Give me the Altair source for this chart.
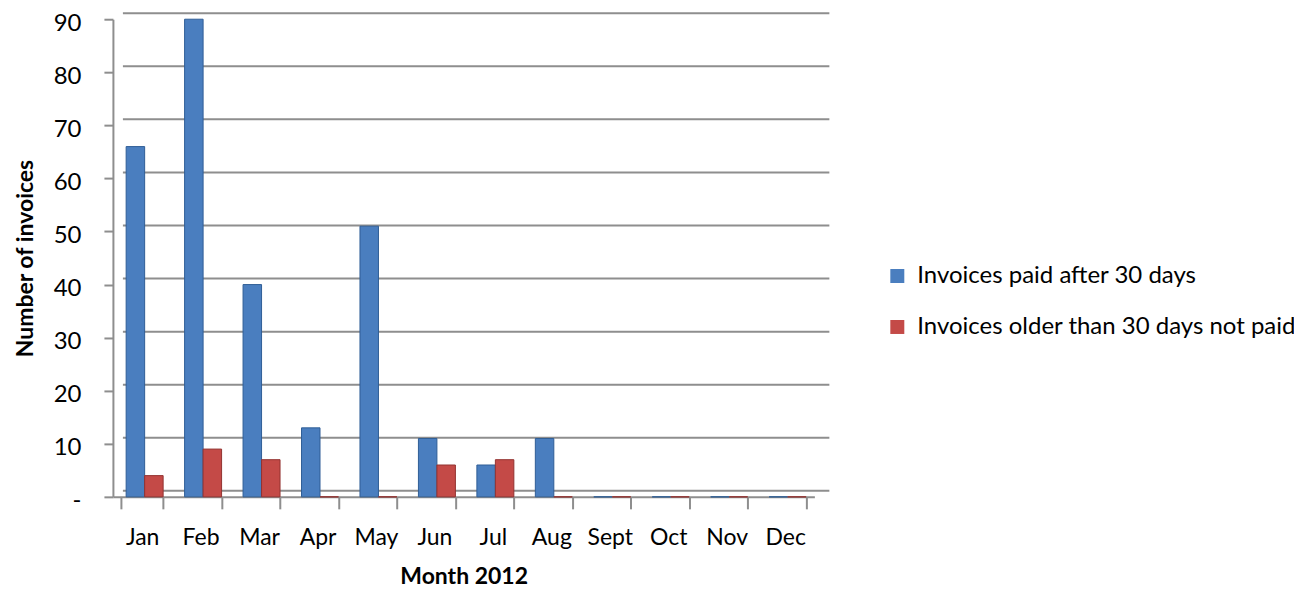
import altair as alt
import pandas as pd

months = ["Jan", "Feb", "Mar", "Apr", "May", "Jun", "Jul", "Aug", "Sept", "Oct", "Nov", "Dec"]
paid_after_30 = [66, 90, 40, 13, 51, 11, 6, 11, 0, 0, 0, 0]
older_not_paid = [4, 9, 7, 0, 0, 6, 7, 0, 0, 0, 0, 0]
series = ["Invoices paid after 30 days", "Invoices older than 30 days not paid"]
y_ticks = [0, 10, 20, 30, 40, 50, 60, 70, 80, 90]

fill_colors = ["#4a7ebf", "#c44a47"]
edge_colors = ["#2f5d96", "#933230"]
FONT = "Lato"

rows = []
for m, a, b in zip(months, paid_after_30, older_not_paid):
    rows.append({"month": m, "series": series[0], "value": a})
    rows.append({"month": m, "series": series[1], "value": b})
df = pd.DataFrame(rows)

grid_df = pd.DataFrame({"value": y_ticks})

y_scale = alt.Scale(domain=[0, 90], nice=False, zero=True)

# back-wall gridlines (slightly raised, as in the 3-D original)
grid = alt.Chart(grid_df).mark_rule(color="#8e8e8e", strokeWidth=2, yOffset=-6).encode(
    y=alt.Y("value:Q", scale=y_scale, title="Number of invoices"),
    x=alt.value(10),
    x2=alt.value(717),
)

zero_label = "'-\u00a0\u00a0\u00a0'"

bars = alt.Chart(df).mark_bar(strokeWidth=1).encode(
    x=alt.X(
        "month:N",
        sort=months,
        scale=alt.Scale(paddingInner=0.282, paddingOuter=0.141),
        title="Month 2012",
        axis=alt.Axis(
            labelAngle=0,
            tickBand="extent",
            tickSize=12,
            tickColor="#8e8e8e",
            tickWidth=2,
            domainColor="#8e8e8e",
            domainWidth=2,
            labelPadding=18,
            labelFontSize=23,
            titlePadding=16,
        ),
    ),
    xOffset=alt.XOffset(
        "series:N",
        sort=series,
        scale=alt.Scale(domain=series, paddingInner=0, paddingOuter=0.135, align=1),
    ),
    y=alt.Y(
        "value:Q",
        scale=y_scale,
        title="Number of invoices",
        axis=alt.Axis(
            values=y_ticks,
            labelExpr="datum.value == 0 ? " + zero_label + " : datum.label",
            tickSize=9,
            tickColor="#8e8e8e",
            tickWidth=2,
            domainColor="#8e8e8e",
            domainWidth=2,
            labelPadding=23,
            labelFontSize=24,
            labelOffset=4,
            titlePadding=16,
            grid=False,
        ),
    ),
    color=alt.Color(
        "series:N",
        sort=series,
        scale=alt.Scale(domain=series, range=fill_colors),
        legend=alt.Legend(
            title=None,
            orient="none",
            legendX=773,
            legendY=245,
            symbolType="square",
            symbolSize=196,
            symbolStrokeWidth=0,
            labelFontSize=24,
            labelFont=FONT,
            labelColor="#000000",
            rowPadding=27,
            labelOffset=8,
            labelLimit=500,
        ),
    ),
    stroke=alt.Stroke(
        "series:N",
        sort=series,
        scale=alt.Scale(domain=series, range=edge_colors),
        legend=None,
    ),
)

chart = (
    alt.layer(grid, bars)
    .properties(
        width=702,
        height=478,
        autosize=alt.AutoSizeParams(type="none"),
        padding={"left": 105, "top": 11, "right": 480, "bottom": 92},
        background="#ffffff",
    )
    .configure_view(stroke=None)
    .configure_axis(
        labelFont=FONT,
        titleFont=FONT,
        labelColor="#000000",
        titleColor="#000000",
        titleFontSize=23,
        titleFontWeight="bold",
    )
)

chart.save("out.html", embed_options={"renderer": "svg", "actions": False})
